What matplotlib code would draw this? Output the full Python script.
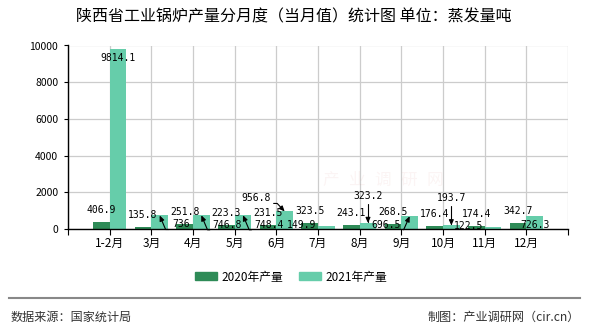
import numpy as np
import matplotlib
matplotlib.use("Agg")
import matplotlib.pyplot as plt
from matplotlib.lines import Line2D
from matplotlib.patches import Patch

plt.rcParams['font.family'] = ['Noto Sans CJK SC', 'DejaVu Sans']

# data
months = ['1-2月', '3月', '4月', '5月', '6月', '7月', '8月', '9月', '10月', '11月', '12月']
prod_2020 = [406.9, 135.8, 251.8, 223.3, 231.5, 323.5, 243.1, 268.5, 176.4, 174.4, 342.7]
prod_2021 = [9814.1, 736, 746.8, 748.4, 956.8, 149.9, 323.2, 696.5, 193.7, 122.5, 726.3]

c2020 = '#2e8b57'
c2021 = '#66cdaa'

# label placement for 2021 bars (offset in pixels from bar top, arrow connection)
lab21 = [
    (0, -9, None),
    (21, -9, ('angle,angleA=180,angleB=113,rad=0', (1, 0))),
    (26, -9.5, ('angle,angleA=180,angleB=113,rad=0', (1, 0))),
    (26, -9.5, ('angle,angleA=180,angleB=113,rad=0', (1, 0))),
    (-28.5, 13, ('angle,angleA=0,angleB=-47,rad=0', (0, 0))),
    (-25, 1, None),
    (0, 27, ('angle,angleA=0,angleB=90,rad=0', (0, 0))),
    (-23.5, -9, ('angle,angleA=0,angleB=66,rad=0', (0, 0))),
    (0, 27, ('angle,angleA=0,angleB=90,rad=0', (0, 0))),
    (-24, 1, None),
    (0, -9, None),
]

fig = plt.figure(figsize=(5.9, 3.3), dpi=100)
ax = fig.add_axes([68/590, 101/330, 500/590, 183.5/330])

x = np.arange(len(months))
w = 0.4
ax.bar(x - w/2, prod_2020, w, color=c2020)
ax.bar(x + w/2, prod_2021, w, color=c2021)

# faint watermark, wide letter spacing
for i, ch in enumerate('产业调研网'):
    fig.text((331 + 26 * i) / 590, 1 - 180/330, ch, fontsize=12, color='#c0392b',
             alpha=0.05, ha='center', va='center')

mono = ['DejaVu Sans Mono']
for xi, v in zip(x, prod_2020):
    ax.annotate(f'{v:g}', (xi - w/2, v), xytext=(0, 12), textcoords='offset pixels',
                ha='center', va='center', fontsize=7, family=mono)

for xi, v, (dx, dy, arr) in zip(x, prod_2021, lab21):
    kw = {}
    if arr is not None:
        kw['arrowprops'] = dict(arrowstyle='-|>,head_length=0.45,head_width=0.2',
                                color='black', lw=0.8, shrinkA=0, shrinkB=0,
                                connectionstyle=arr[0], relpos=arr[1])
    ax.annotate(f'{v:g}', (xi + w/2, v), xytext=(dx, dy), textcoords='offset pixels',
                ha='center', va='center', fontsize=7, family=mono, **kw)

ax.set_xlim(-1, 11)
ax.set_ylim(0, 10000)
ax.set_xticks(np.arange(-1, 12))
ax.set_xticklabels([''] + months + [''])
ax.set_yticks(np.arange(0, 10001, 2000))
ax.tick_params(axis='x', length=4, pad=2, labelsize=8.5)
ax.tick_params(axis='y', length=3, pad=4, labelsize=7.5)
ax.grid(True, color='#cccccc', lw=0.9)
ax.set_axisbelow(True)
for s in ['top', 'right']:
    ax.spines[s].set_visible(False)
ax.spines['left'].set_linewidth(1)
ax.spines['bottom'].set_linewidth(1)

fig.text(0.498, 1 - 17/330, '陕西省工业锅炉产量分月度（当月值）统计图 单位：蒸发量吨',
         ha='center', va='center', fontsize=11.5)

handles = [Patch(color=c2020), Patch(color=c2021)]
fig.legend(handles, ['2020年产量', '2021年产量'], loc='center', ncol=2,
           bbox_to_anchor=(291/590, 1 - 277/330), frameon=False, fontsize=8.5,
           handlelength=1.86, handleheight=0.68, handletextpad=0.34, columnspacing=1.36)

fig.add_artist(Line2D([9/590, 580/590], [1 - 298/330] * 2, color='#888888', lw=1.5))
fig.text(11/590, 1 - 317/330, '数据来源：国家统计局', ha='left', va='center',
         fontsize=8.7, color='#333333')
fig.text(580/590, 1 - 317/330, '制图：产业调研网（cir.cn）', ha='right', va='center',
         fontsize=8.7, color='#333333')

fig.savefig('out.png', dpi=100)
